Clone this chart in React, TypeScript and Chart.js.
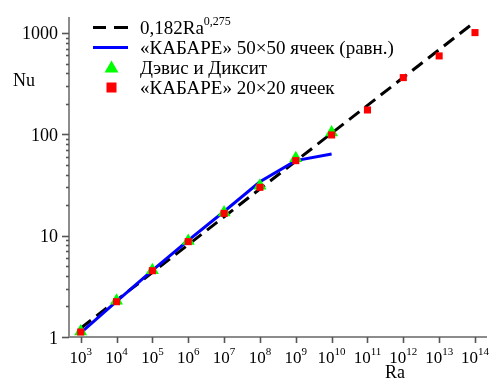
import React, { useEffect, useRef } from 'react';
import { Chart, registerables } from 'chart.js';

Chart.register(...registerables);

// ---- data ----
const xTickExponents = [3, 4, 5, 6, 7, 8, 9, 10, 11, 12, 13, 14];
const yTickValues = [1, 10, 100, 1000];
const yTickLabels = ['1', '10', '100', '1000'];

const correlationRa = [1e3, 1e14];
const correlationNu = [1.22, 1290];

const kabare50Ra = [1e3, 1e4, 1e5, 1e6, 1e7, 1e8, 1e9, 1e10];
const kabare50Nu = [1.1, 2.25, 4.55, 9.0, 17.3, 34, 55, 64];

const davisRa = [1e3, 1e4, 1e5, 1e6, 1e7, 1e8, 1e9, 1e10];
const davisNu = [1.13, 2.28, 4.55, 8.85, 16.9, 31, 58, 104];

const kabare20Ra = [1e3, 1e4, 1e5, 1e6, 1e7, 1e8, 1e9, 1e10, 1e11, 1e12, 1e13, 1e14];
const kabare20Nu = [1.12, 2.23, 4.51, 8.73, 16.6, 30.0, 55.0, 98.6, 174, 363, 594, 1009];

const legendLabels = [
  { base: '0,182Ra', sup: '0,275' },
  { base: '«КАБАРЕ» 50×50 ячеек (равн.)', sup: '' },
  { base: 'Дэвис и Диксит', sup: '' },
  { base: '«КАБАРЕ» 20×20 ячеек', sup: '' },
];

const xAxisTitle = 'Ra';
const yAxisTitle = 'Nu';

const SERIF = '"Liberation Serif", "Times New Roman", serif';

const toPoints = (xs: number[], ys: number[]) => xs.map((x, i) => ({ x, y: ys[i] }));

const customPlugin = {
  id: 'customDecor',
  beforeDatasetsDraw(chart: any) {
    const { ctx, chartArea, scales } = chart;
    const xs = scales.x;
    const ys = scales.y;
    ctx.save();
    // x ticks
    ctx.strokeStyle = '#555';
    ctx.lineWidth = 1.6;
    for (const e of xTickExponents) {
      const px = Math.round(xs.getPixelForValue(Math.pow(10, e))) + 0.5;
      ctx.beginPath();
      ctx.moveTo(px, chartArea.bottom);
      ctx.lineTo(px, chartArea.bottom + 6);
      ctx.stroke();
    }
    // y ticks (major + minor)
    for (let d = 0; d <= 3; d++) {
      for (let m = 1; m <= 9; m++) {
        const v = m * Math.pow(10, d);
        if (v > ys.max) continue;
        const py = Math.round(ys.getPixelForValue(v)) + 0.5;
        const len = m === 1 ? 7 : 3;
        ctx.beginPath();
        ctx.moveTo(chartArea.left - len, py);
        ctx.lineTo(chartArea.left, py);
        ctx.stroke();
      }
    }
    // y labels
    ctx.fillStyle = '#000';
    ctx.font = `18px ${SERIF}`;
    ctx.textAlign = 'right';
    ctx.textBaseline = 'alphabetic';
    yTickValues.forEach((v, i) => {
      const py = ys.getPixelForValue(v);
      ctx.fillText(yTickLabels[i], chartArea.left - 11, py + 6.5);
    });
    // x labels with superscripts
    ctx.textAlign = 'left';
    for (const e of xTickExponents) {
      const px = xs.getPixelForValue(Math.pow(10, e));
      ctx.font = `17px ${SERIF}`;
      const wb = ctx.measureText('10').width;
      ctx.font = `11px ${SERIF}`;
      const wsup = ctx.measureText(String(e)).width;
      const start = px - (wb + wsup) / 2;
      ctx.font = `17px ${SERIF}`;
      ctx.fillText('10', start, chartArea.bottom + 26);
      ctx.font = `11px ${SERIF}`;
      ctx.fillText(String(e), start + wb, chartArea.bottom + 18);
    }
    // axis titles
    ctx.font = `18px ${SERIF}`;
    ctx.textAlign = 'center';
    ctx.fillText(yAxisTitle, 24, 86);
    ctx.fillText(xAxisTitle, 395, 378);
    ctx.restore();
  },
  afterDatasetsDraw(chart: any) {
    const { ctx } = chart;
    ctx.save();
    const rowY = [27.5, 47.5, 67.5, 87.5];
    // row 1: dashed black
    ctx.strokeStyle = '#000';
    ctx.lineWidth = 3;
    ctx.beginPath();
    ctx.moveTo(93, rowY[0]);
    ctx.lineTo(106, rowY[0]);
    ctx.moveTo(114, rowY[0]);
    ctx.lineTo(128, rowY[0]);
    ctx.stroke();
    // row 2: blue line
    ctx.strokeStyle = '#0000ff';
    ctx.beginPath();
    ctx.moveTo(93, rowY[1]);
    ctx.lineTo(128, rowY[1]);
    ctx.stroke();
    // row 3: green triangle
    ctx.fillStyle = '#00ff00';
    const r = 8;
    const tx = 111.5, ty = rowY[2] + 1;
    ctx.beginPath();
    ctx.moveTo(tx, ty - r);
    ctx.lineTo(tx + r * Math.sin((2 * Math.PI) / 3), ty + r / 2);
    ctx.lineTo(tx - r * Math.sin((2 * Math.PI) / 3), ty + r / 2);
    ctx.closePath();
    ctx.fill();
    // row 4: red square
    ctx.fillStyle = '#ff0000';
    ctx.fillRect(106.5, rowY[3] - 5, 10, 10);
    // texts
    ctx.fillStyle = '#000';
    ctx.textAlign = 'left';
    ctx.textBaseline = 'alphabetic';
    legendLabels.forEach((lab, i) => {
      ctx.font = `19px ${SERIF}`;
      const base = rowY[i] + 6.5;
      ctx.fillText(lab.base, 140, base);
      if (lab.sup) {
        const w = ctx.measureText(lab.base).width;
        ctx.font = `12px ${SERIF}`;
        ctx.fillText(lab.sup, 140 + w, base - 9.5);
      }
    });
    ctx.restore();
  },
};

export default function App() {
  const canvasRef = useRef<HTMLCanvasElement | null>(null);

  useEffect(() => {
    if (!canvasRef.current) return;
    const chart = new Chart(canvasRef.current, {
      type: 'scatter',
      data: {
        datasets: [
          {
            label: '«КАБАРЕ» 20×20 ячеек',
            data: toPoints(kabare20Ra, kabare20Nu),
            pointStyle: 'rect',
            pointRadius: 5,
            backgroundColor: '#ff0000',
            borderWidth: 0,
            showLine: false,
            order: 0,
          } as any,
          {
            label: 'Дэвис и Диксит',
            data: toPoints(davisRa, davisNu),
            pointStyle: 'triangle',
            pointRadius: 7.5,
            backgroundColor: '#00ff00',
            borderWidth: 0,
            showLine: false,
            order: 1,
          },
          {
            label: '«КАБАРЕ» 50×50 ячеек (равн.)',
            data: toPoints(kabare50Ra, kabare50Nu),
            showLine: true,
            borderColor: '#0000ff',
            borderWidth: 3,
            pointRadius: 0,
            tension: 0,
            order: 2,
          },
          {
            label: '0,182Ra^0,275',
            data: toPoints(correlationRa, correlationNu),
            showLine: true,
            borderColor: '#000000',
            borderWidth: 3,
            borderDash: [13, 7],
            pointRadius: 0,
            order: 3,
          },
        ],
      },
      options: {
        animation: false,
        responsive: false,
        devicePixelRatio: 1,
        clip: false as any,
        layout: { padding: { left: 0, top: 18, right: 8, bottom: 0 } },
        plugins: {
          legend: { display: false },
          tooltip: { enabled: false },
        },
        scales: {
          x: {
            type: 'logarithmic',
            min: Math.pow(10, 2.674),
            max: Math.pow(10, 14.307),
            grid: { display: false, drawTicks: false },
            border: { display: true, color: '#8c8c8c', width: 2 },
            ticks: { display: false },
            afterFit: (s: any) => {
              s.height = 388 - 337;
            },
          },
          y: {
            type: 'logarithmic',
            min: 1,
            max: 1406,
            grid: { display: false, drawTicks: false },
            border: { display: true, color: '#8c8c8c', width: 2 },
            ticks: { display: false },
            afterFit: (s: any) => {
              s.width = 69;
            },
          },
        },
      },
      plugins: [customPlugin],
    });
    return () => chart.destroy();
  }, []);

  return (
    <div style={{ position: 'fixed', left: 0, top: 0, width: 494, height: 388, background: '#fff' }}>
      <canvas ref={canvasRef} width={494} height={388} />
    </div>
  );
}
